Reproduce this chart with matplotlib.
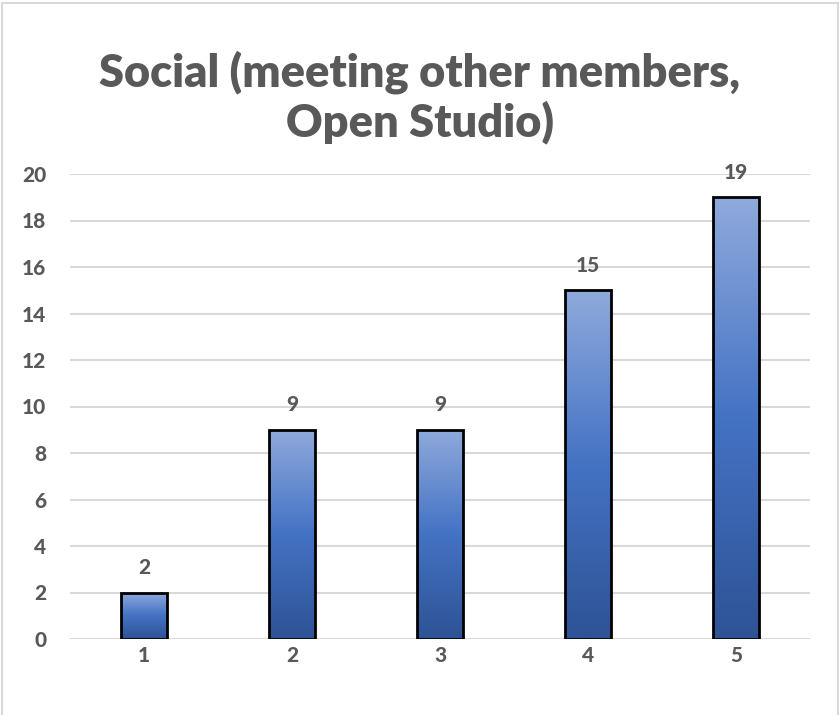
import numpy as np
import matplotlib
matplotlib.use("Agg")
import matplotlib.pyplot as plt
from matplotlib.colors import LinearSegmentedColormap
from matplotlib.lines import Line2D

categories = ["1", "2", "3", "4", "5"]
values = [2, 9, 9, 15, 19]
y_ticks = [0, 2, 4, 6, 8, 10, 12, 14, 16, 18, 20]
title = "Social (meeting other members,\nOpen Studio)"

text_color = "#595959"
grid_color = "#D9D9D9"
FONT = "Lato"
LABEL_WEIGHT = 900
TITLE_WEIGHT = 800

W, H, DPI = 839, 715, 100
fig = plt.figure(figsize=(W / DPI, H / DPI), dpi=DPI)
fig.patch.set_facecolor("white")

# light frame on the top, left and right of the chart
fx0, fx1, fy1 = 1.5 / W, 1 - 1.5 / W, 1 - 2.5 / H
for xs, ys in [([fx0, fx1], [fy1, fy1]), ([fx0, fx0], [0, fy1]), ([fx1, fx1], [0, fy1])]:
    fig.add_artist(Line2D(xs, ys, transform=fig.transFigure,
                          color=grid_color, linewidth=1.5))

left, right, top, bottom = 70, 810, 174, 639
ax = fig.add_axes([left / W, 1 - bottom / H, (right - left) / W, (bottom - top) / H])

x = np.arange(len(categories))
ax.set_xlim(-0.5, len(categories) - 0.5)
ax.set_ylim(0, 20)

for s in ax.spines.values():
    s.set_visible(False)
ax.set_yticks(y_ticks)
ax.set_yticklabels([str(t) for t in y_ticks], family=FONT, weight=LABEL_WEIGHT, size=15)
ax.set_xticks(x)
ax.set_xticklabels(categories, family=FONT, weight=LABEL_WEIGHT, size=15)
ax.tick_params(axis="both", length=0, colors=text_color)
ax.tick_params(axis="y", pad=17)
ax.tick_params(axis="x", pad=5)
ax.grid(axis="y", color=grid_color, linewidth=1.5)
ax.set_axisbelow(True)

cmap = LinearSegmentedColormap.from_list(
    "bar_grad", ["#2E5395", "#4472C4", "#8FAADC"])
grad = np.linspace(0, 1, 256).reshape(-1, 1)

bar_w = 0.31
bars = ax.bar(x, values, width=bar_w, facecolor="none",
              edgecolor="black", linewidth=2, zorder=3)
for b in bars:
    bx, by = b.get_x(), b.get_y()
    bw, bh = b.get_width(), b.get_height()
    im = ax.imshow(grad, cmap=cmap, origin="lower", aspect="auto",
                   extent=(bx, bx + bw, by, by + bh), zorder=2,
                   interpolation="bilinear")
    im.set_clip_path(b)

for xi, v in zip(x, values):
    ax.annotate(str(v), (xi, v), xytext=(0, 11), textcoords="offset points",
                ha="center", va="bottom", family=FONT, weight=LABEL_WEIGHT,
                size=15, color=text_color)

fig.text(0.5, 1 - 97 / H, title, ha="center", va="center",
         family=FONT, weight=TITLE_WEIGHT, size=32.5, color=text_color,
         linespacing=1.18)

fig.savefig("out.png", dpi=DPI)
